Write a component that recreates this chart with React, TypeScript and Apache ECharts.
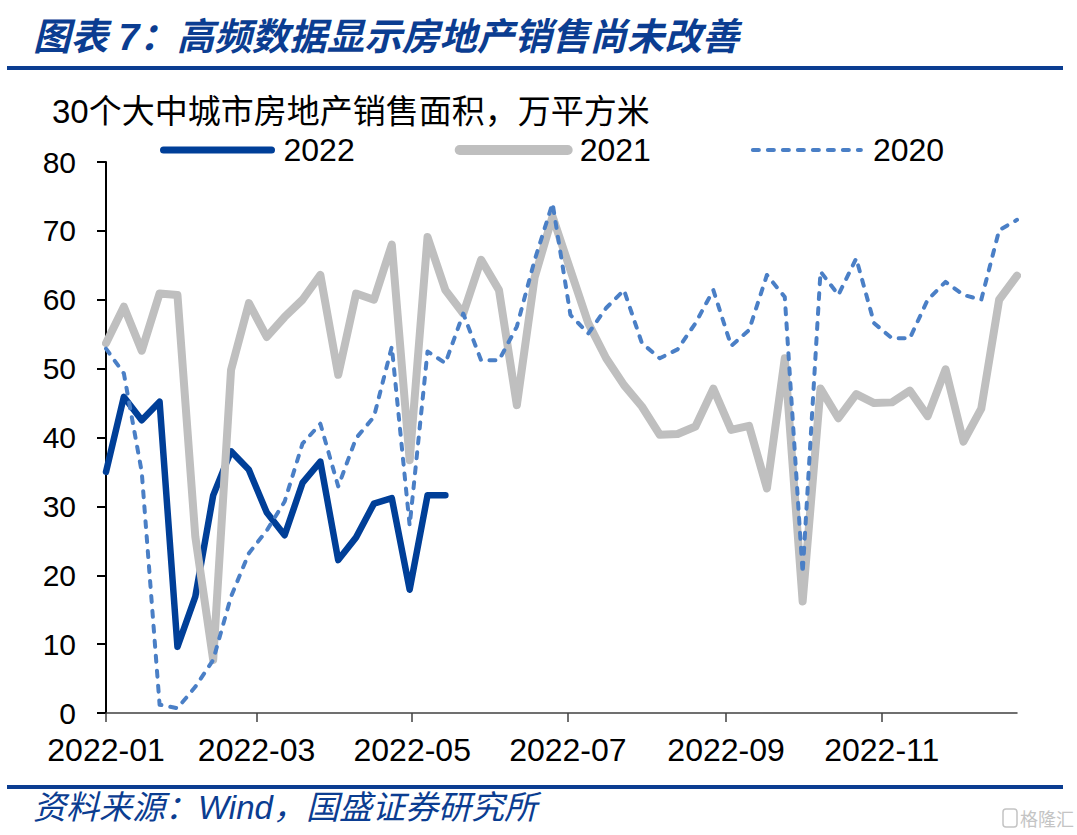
import React, { useEffect, useRef } from 'react';
import * as echarts from 'echarts';

const weeks = [
  '2022-01-01', '2022-01-08', '2022-01-15', '2022-01-22', '2022-01-29',
  '2022-02-05', '2022-02-12', '2022-02-19', '2022-02-26',
  '2022-03-05', '2022-03-12', '2022-03-19', '2022-03-26',
  '2022-04-02', '2022-04-09', '2022-04-16', '2022-04-23', '2022-04-30',
  '2022-05-07', '2022-05-14', '2022-05-21', '2022-05-28',
  '2022-06-04', '2022-06-11', '2022-06-18', '2022-06-25',
  '2022-07-02', '2022-07-09', '2022-07-16', '2022-07-23', '2022-07-30',
  '2022-08-06', '2022-08-13', '2022-08-20', '2022-08-27',
  '2022-09-03', '2022-09-10', '2022-09-17', '2022-09-24',
  '2022-10-01', '2022-10-08', '2022-10-15', '2022-10-22', '2022-10-29',
  '2022-11-05', '2022-11-12', '2022-11-19', '2022-11-26',
  '2022-12-03', '2022-12-10', '2022-12-17', '2022-12-24',
];

const sales2022 = [
  35.0, 45.9, 42.5, 45.2, 9.6, 16.9, 31.6, 38.0, 35.3, 29.1,
  25.8, 33.4, 36.5, 22.2, 25.5, 30.4, 31.2, 17.9, 31.6, 31.6,
];

const sales2021 = [
  53.7, 59.0, 52.6, 60.9, 60.7, 25.6, 7.7, 49.8, 59.5, 54.6,
  57.5, 60.0, 63.6, 49.1, 60.9, 60.0, 68.0, 36.7, 69.1, 61.4,
  58.0, 65.8, 61.4, 44.7, 63.3, 72.1, 64.3, 56.6, 51.5, 47.6,
  44.5, 40.4, 40.5, 41.6, 47.1, 41.1, 41.7, 32.6, 51.5, 16.2,
  47.1, 42.8, 46.3, 45.0, 45.1, 46.8, 43.1, 49.9, 39.4, 44.2,
  60.0, 63.5,
];

const sales2020 = [
  52.9, 49.3, 35.0, 1.2, 0.7, 3.8, 7.7, 16.9, 23.2, 26.5,
  30.7, 39.1, 42.0, 32.9, 39.9, 43.0, 53.2, 27.2, 52.5, 50.8,
  58.0, 51.2, 51.2, 56.1, 65.8, 74.0, 57.8, 55.1, 58.8, 61.4,
  53.7, 51.5, 52.8, 56.6, 61.4, 53.3, 55.6, 63.6, 60.4, 20.3,
  64.1, 60.7, 66.0, 56.6, 54.4, 54.4, 60.0, 62.6, 60.7, 60.0,
  70.1, 71.6,
];

const seriesNames = ['2022', '2021', '2020'];
const xTickDates = ['2022-01-01', '2022-03-01', '2022-05-01', '2022-07-01', '2022-09-01', '2022-11-01'];
const xMin = '2022-01-01';
const xMax = '2022-12-24';

const LATIN = 'Arial, "Liberation Sans", sans-serif';
const MIXED = 'Arial, "Liberation Sans", "Noto Sans CJK SC", sans-serif';
const BLUE = '#0B3D91';
const C2022 = '#003F98';
const C2021 = '#BFBFBF';
const C2020 = '#4A7FC6';
const DASH = [6, 9];

function toTime(s: string): number {
  const [y, m, d] = s.split('-').map(Number);
  return Date.UTC(y, m - 1, d);
}

export default function App() {
  const ref = useRef<HTMLDivElement>(null);

  useEffect(() => {
    if (!ref.current) return;
    const chart = echarts.init(ref.current, null, { renderer: 'svg' });
    const pairs = (vals: number[]) => vals.map((v, i) => [toTime(weeks[i]), v]);
    const tickVals = xTickDates.map(toTime);
    const pad = (n: number) => (n < 10 ? '0' + n : '' + n);

    chart.setOption({
      animation: false,
      backgroundColor: '#ffffff',
      grid: { left: 106, top: 162, right: 60, bottom: 122, containLabel: false },
      legend: {
        data: [
          {
            name: seriesNames[0],
            itemStyle: { opacity: 0 },
            lineStyle: { color: C2022, width: 7, cap: 'round', type: 'solid' },
          },
          {
            name: seriesNames[1],
            itemStyle: { opacity: 0 },
            lineStyle: { color: C2021, width: 10, cap: 'round', type: 'solid' },
          },
          {
            name: seriesNames[2],
            itemStyle: { opacity: 0 },
            lineStyle: { color: C2020, width: 4, cap: 'round', type: DASH },
          },
        ],
        left: 155,
        top: 129,
        itemWidth: 108,
        itemHeight: 28,
        itemGap: 100,
        textStyle: { fontSize: 32, color: '#000', fontFamily: LATIN, padding: [0, 0, 0, 7] },
      },
      xAxis: {
        type: 'value',
        min: toTime(xMin),
        max: toTime(xMax),
        splitLine: { show: false },
        axisLine: { show: true, lineStyle: { color: '#404040', width: 1.5 } },
        axisTick: {
          show: true,
          length: 9,
          customValues: tickVals,
          lineStyle: { color: '#404040', width: 1.5 },
        },
        axisLabel: {
          show: true,
          customValues: tickVals,
          margin: 21,
          fontSize: 32,
          color: '#000',
          fontFamily: LATIN,
          formatter: (val: number) => {
            const d = new Date(val);
            return d.getUTCFullYear() + '-' + pad(d.getUTCMonth() + 1);
          },
        },
      },
      yAxis: {
        type: 'value',
        min: 0,
        max: 80,
        interval: 10,
        splitLine: { show: false },
        axisLine: { show: true, lineStyle: { color: '#000', width: 2 } },
        axisTick: { show: true, length: 9, lineStyle: { color: '#000', width: 2 } },
        axisLabel: { margin: 30, fontSize: 30, color: '#000', fontFamily: LATIN },
      },
      series: [
        {
          name: seriesNames[0],
          type: 'line',
          data: pairs(sales2022),
          symbol: 'none',
          color: C2022,
          lineStyle: { color: C2022, width: 6.5, cap: 'round', join: 'round' },
        },
        {
          name: seriesNames[1],
          type: 'line',
          data: pairs(sales2021),
          symbol: 'none',
          color: C2021,
          lineStyle: { color: C2021, width: 8, cap: 'round', join: 'round' },
        },
        {
          name: seriesNames[2],
          type: 'line',
          data: pairs(sales2020),
          symbol: 'none',
          color: C2020,
          lineStyle: { color: C2020, width: 4, type: DASH, cap: 'round', join: 'round' },
        },
      ],
      graphic: [
        {
          type: 'text',
          x: 33,
          y: 37,
          style: {
            text: '图表 7：高频数据显示房地产销售尚未改善',
            font: 'italic bold 37.5px "Liberation Sans", "Noto Sans CJK SC", sans-serif',
            fill: BLUE,
            textVerticalAlign: 'middle',
          },
        },
        { type: 'rect', shape: { x: 7, y: 66, width: 1056, height: 4 }, style: { fill: BLUE } },
        {
          type: 'text',
          x: 52,
          y: 111,
          style: {
            text: '30个大中城市房地产销售面积，万平方米',
            font: '33px ' + MIXED,
            fill: '#000',
            textVerticalAlign: 'middle',
          },
        },
        { type: 'rect', shape: { x: 7, y: 785, width: 1056, height: 4 }, style: { fill: BLUE } },
        {
          type: 'text',
          x: 33,
          y: 807,
          style: {
            text: '资料来源：Wind，国盛证券研究所',
            font: 'italic 33px ' + MIXED,
            fill: BLUE,
            textVerticalAlign: 'middle',
          },
        },
        {
          type: 'rect',
          shape: { x: 1003, y: 809, width: 14, height: 18, r: 3 },
          style: { fill: 'none', stroke: '#c4c4c4', lineWidth: 1.5 },
        },
        {
          type: 'text',
          x: 1020,
          y: 818,
          style: {
            text: '格隆汇',
            font: '18px "Noto Sans CJK SC", sans-serif',
            fill: '#c4c4c4',
            textVerticalAlign: 'middle',
          },
        },
      ],
    });

    return () => chart.dispose();
  }, []);

  return (
    <div
      ref={ref}
      style={{ position: 'fixed', left: 0, top: 0, width: 1077, height: 835, background: '#fff' }}
    />
  );
}
